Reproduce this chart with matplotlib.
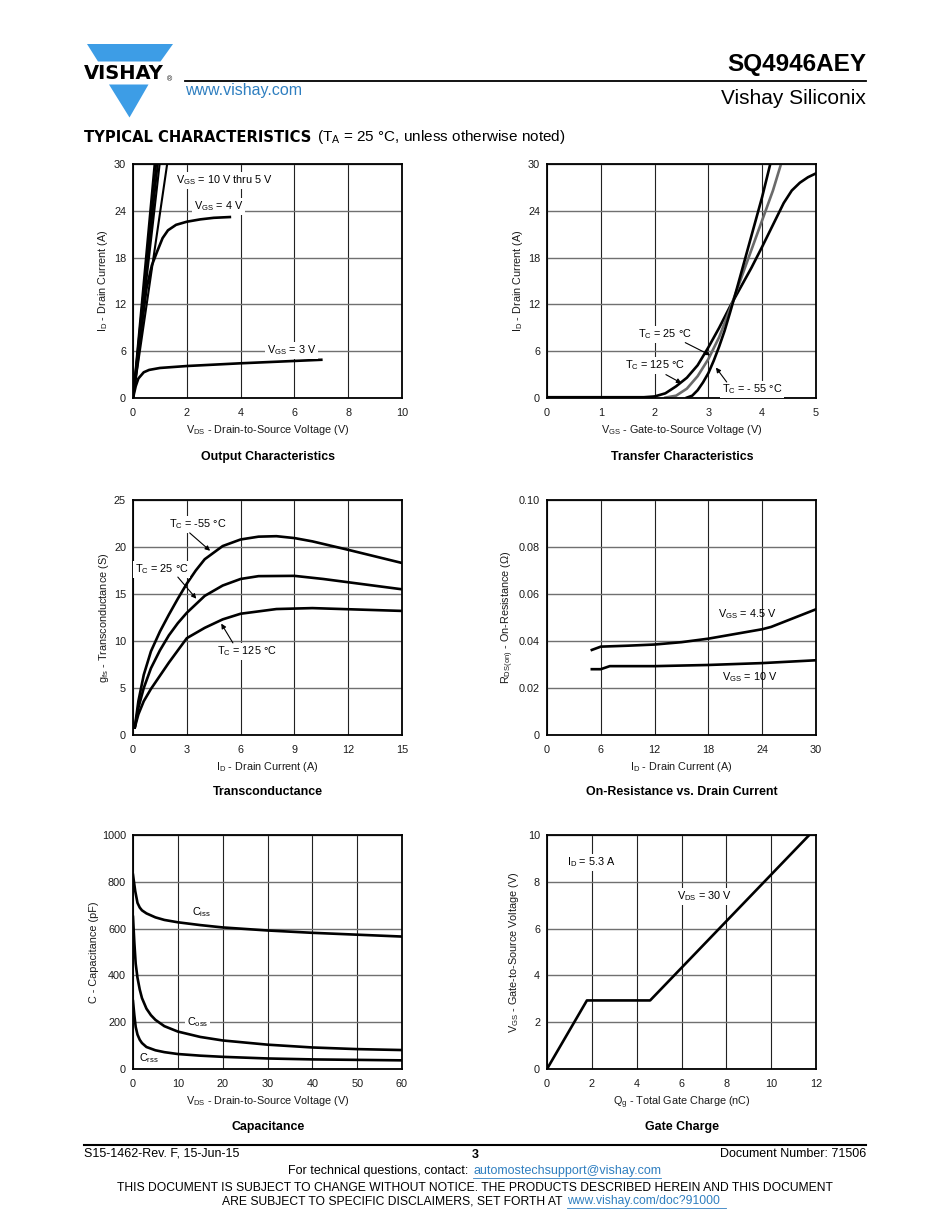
import matplotlib
matplotlib.use("Agg")
import matplotlib.pyplot as plt
from matplotlib.patches import Polygon
from matplotlib.lines import Line2D

plt.rcParams['font.family'] = ['Liberation Sans', 'DejaVu Sans']
plt.rcParams['mathtext.default'] = 'regular'

W, H = 950, 1230

# ---------------- DATA ----------------
# Output characteristics (VDS [V], ID [A])
out_hi_vds = [[0, 0.80], [0, 0.86], [0, 0.92], [0, 0.99], [0, 1.27]]
out_hi_id = [[0, 30], [0, 30], [0, 30], [0, 30], [0, 30]]
out_4v_vds = [0, 0.15, 0.3, 0.5, 0.7, 0.9, 1.1, 1.3, 1.6, 2.0, 2.5, 3.0, 3.6]
out_4v_id = [0, 4, 8.5, 14, 17, 18.8, 20.5, 21.5, 22.2, 22.6, 22.9, 23.1, 23.2]
out_3v_vds = [0, 0.1, 0.2, 0.4, 0.6, 1, 2, 4, 6, 7]
out_3v_id = [0, 1.5, 2.5, 3.3, 3.6, 3.85, 4.1, 4.45, 4.75, 4.9]

# Transfer characteristics (VGS [V], ID [A])
tr_125_vgs = [0, 1.8, 2.0, 2.2, 2.4, 2.6, 2.8, 3.0, 3.2, 3.4, 3.6, 3.8, 4.0, 4.2, 4.4, 4.55, 4.7, 4.85, 5.0]
tr_125_id = [0.1, 0.1, 0.2, 0.6, 1.5, 2.6, 4.2, 6.5, 9.0, 11.7, 14.2, 16.7, 19.4, 22.2, 25.0, 26.6, 27.6, 28.3, 28.8]
tr_25_vgs = [2.2, 2.4, 2.6, 2.8, 3.0, 3.2, 3.4, 3.6, 3.8, 4.0, 4.2, 4.35]
tr_25_id = [0.05, 0.3, 1.2, 2.8, 5.0, 7.8, 11.4, 15.2, 19.0, 22.8, 26.6, 30]
tr_m55_vgs = [2.6, 2.7, 2.8, 2.9, 3.0, 3.1, 3.2, 3.3, 3.4, 3.5, 3.6, 3.8, 4.0, 4.15]
tr_m55_id = [0.05, 0.3, 1.0, 2.0, 3.2, 4.8, 6.6, 8.6, 10.9, 13.3, 15.8, 20.8, 25.8, 30]

# Transconductance (ID [A], gfs [S])
gfs_m55_id = [0.1, 0.3, 0.6, 1.0, 1.5, 2, 2.5, 3, 3.5, 4, 5, 6, 7, 8, 9, 10, 12, 15]
gfs_m55 = [0.8, 3.6, 6.4, 8.9, 11.0, 12.8, 14.5, 16.1, 17.5, 18.7, 20.1, 20.8, 21.1, 21.15, 20.95, 20.6, 19.7, 18.3]
gfs_25_id = [0.1, 0.3, 0.6, 1.0, 1.5, 2, 2.5, 3, 4, 5, 6, 7, 9, 10.6, 15]
gfs_25 = [0.8, 2.9, 5.0, 7.1, 9.0, 10.6, 11.9, 13.0, 14.8, 15.9, 16.6, 16.9, 16.93, 16.6, 15.5]
gfs_125_id = [0.1, 0.3, 0.6, 1.0, 1.5, 2, 2.5, 3, 4, 5, 6, 8, 9, 10, 15]
gfs_125 = [0.8, 2.2, 3.6, 4.9, 6.3, 7.7, 9.0, 10.3, 11.4, 12.3, 12.9, 13.4, 13.45, 13.5, 13.2]

# On-resistance (ID [A], RDS(on) [ohm])
ron_45_id = [5, 6, 9, 12, 15, 18, 21, 24, 25, 30]
ron_45 = [0.0362, 0.0376, 0.0380, 0.0385, 0.0395, 0.0410, 0.0430, 0.0450, 0.0460, 0.0535]
ron_10_id = [5, 6, 7, 12, 18, 24, 30]
ron_10 = [0.0280, 0.0280, 0.0293, 0.0293, 0.0298, 0.0306, 0.0318]

# Capacitance (VDS [V], C [pF])
ciss_v = [0, 0.5, 1, 1.5, 2, 3, 5, 7, 10, 15, 20, 30, 40, 50, 60]
ciss = [830, 760, 710, 690, 678, 665, 648, 637, 627, 615, 605, 592, 582, 574, 566]
coss_v = [0, 0.3, 0.6, 1, 1.5, 2, 3, 4, 5, 7, 10, 15, 20, 30, 40, 50, 60]
coss = [650, 540, 450, 390, 340, 303, 258, 230, 210, 183, 160, 137, 122, 104, 92, 85, 81]
crss_v = [0, 0.3, 0.6, 1, 1.5, 2, 3, 5, 7, 10, 15, 20, 30, 40, 50, 60]
crss = [290, 230, 180, 147, 125, 111, 94, 80, 72, 64, 57, 52, 45, 41, 39, 37]

# Gate charge (Qg [nC], VGS [V])
qg = [0, 1.78, 4.6, 11.7]
vgs_qg = [0, 2.93, 2.93, 10]

# ---------------- FIGURE ----------------
fig = plt.figure(figsize=(W / 100, H / 100), dpi=100)

FS = 7.8


def fx(x):
    return x / W


def fy(y):
    return 1 - y / H


def ftext(x, y, s, **kw):
    kw.setdefault('va', 'center')
    return fig.text(fx(x), fy(y), s, **kw)


def make_axes(l, t, r, b):
    ax = fig.add_axes([fx(l), fy(b), (r - l) / W, (b - t) / H])
    for sp in ax.spines.values():
        sp.set_linewidth(1.3)
        sp.set_color('black')
    ax.tick_params(length=0, labelsize=FS, labelcolor='#1a1a1a')
    ax.tick_params(axis='x', pad=7)
    ax.tick_params(axis='y', pad=5)
    ax.set_axisbelow(True)
    ax.xaxis.grid(True, color='#222222', lw=0.8)
    ax.yaxis.grid(True, color='#707070', lw=1.0)
    return ax


def labels(ax, xl, yl, ylx, xly=-0.108):
    ax.set_xlabel(xl, fontsize=FS, color='#1a1a1a')
    ax.set_ylabel(yl, fontsize=FS, color='#1a1a1a')
    ax.xaxis.set_label_coords(0.5, xly)
    ax.yaxis.set_label_coords(ylx, 0.5)


LW = 1.9
box = dict(facecolor='white', edgecolor='none', pad=1.2)
arr = dict(arrowstyle='-|>', color='black', lw=0.8, mutation_scale=7, shrinkA=0, shrinkB=0)

# ---- Header ----
blue = '#3d9de6'
fig.add_artist(Polygon([(fx(87), fy(44)), (fx(173), fy(44)), (fx(160.5), fy(61.5)), (fx(98), fy(61.5))],
                       closed=True, facecolor=blue, edgecolor='none', transform=fig.transFigure))
fig.add_artist(Polygon([(fx(109), fy(84.5)), (fx(148.5), fy(84.5)), (fx(129.5), fy(117.5))],
                       closed=True, facecolor=blue, edgecolor='none', transform=fig.transFigure))
ftext(83.5, 73.5, 'VISHAY', fontsize=14, fontweight='bold', ha='left', color='black', family='DejaVu Sans')
ftext(166.5, 79.5, '®', fontsize=5, ha='left', color='black')
fig.add_artist(Line2D([fx(185), fx(866)], [fy(81), fy(81)], color='black', lw=1.3, transform=fig.transFigure))
ftext(185, 91, 'www.vishay.com', fontsize=11.5, ha='left', color='#2f7fc0')
ftext(866, 64, 'SQ4946AEY', fontsize=17.5, fontweight='bold', ha='right')
ftext(866, 99, 'Vishay Siliconix', fontsize=15, ha='right')
ftext(84, 137, 'TYPICAL CHARACTERISTICS', fontsize=10.6, fontweight='bold', ha='left', family='DejaVu Sans')
ftext(317, 137, r'(T$_A$ = 25 °C, unless otherwise noted)', fontsize=11, ha='left')

# ---- 1. Output characteristics ----
ax1 = make_axes(133, 164, 402, 398)
for xs, ys in zip(out_hi_vds, out_hi_id):
    ax1.plot(xs, ys, color='black', lw=1.5)
ax1.plot(out_4v_vds, out_4v_id, color='black', lw=LW)
ax1.plot(out_3v_vds, out_3v_id, color='black', lw=LW)
ax1.set_xlim(0, 10)
ax1.set_ylim(0, 30)
ax1.set_xticks([0, 2, 4, 6, 8, 10])
ax1.set_yticks([0, 6, 12, 18, 24, 30])
ax1.text(1.58, 27.9, r'$V_{GS}$ = 10 V thru 5 V', fontsize=FS, va='center', ha='left', bbox=box)
ax1.text(2.27, 24.6, r'$V_{GS}$ = 4 V', fontsize=FS, va='center', ha='left', bbox=box)
ax1.text(4.98, 6.1, r'$V_{GS}$ = 3 V', fontsize=FS, va='center', ha='left', bbox=box)
labels(ax1, r'$V_{DS}$ - Drain-to-Source Voltage (V)', r'$I_D$ - Drain Current (A)', -0.085)
ftext(268, 457, 'Output Characteristics', fontsize=8.9, fontweight='bold', ha='center')

# ---- 2. Transfer characteristics ----
ax2 = make_axes(547, 164, 816, 398)
ax2.plot(tr_125_vgs, tr_125_id, color='black', lw=LW)
ax2.plot(tr_25_vgs, tr_25_id, color='#6a6a6a', lw=LW)
ax2.plot(tr_m55_vgs, tr_m55_id, color='black', lw=LW)
ax2.set_xlim(0, 5)
ax2.set_ylim(0, 30)
ax2.set_xticks([0, 1, 2, 3, 4, 5])
ax2.set_yticks([0, 6, 12, 18, 24, 30])
ax2.text(1.69, 8.2, r'$T_C$ = 25 °C', fontsize=FS, va='center', ha='left', bbox=box)
ax2.annotate('', xy=(3.03, 5.5), xytext=(2.57, 7.1), arrowprops=arr)
ax2.text(1.45, 4.2, r'$T_C$ = 125 °C', fontsize=FS, va='center', ha='left', bbox=box)
ax2.annotate('', xy=(2.5, 1.9), xytext=(2.21, 3.0), arrowprops=arr)
ax2.text(3.25, 1.1, r'$T_C$ = - 55 °C', fontsize=FS, va='center', ha='left', bbox=box)
ax2.annotate('', xy=(3.14, 3.9), xytext=(3.34, 2.05), arrowprops=arr)
labels(ax2, r'$V_{GS}$ - Gate-to-Source Voltage (V)', r'$I_D$ - Drain Current (A)', -0.083)
ftext(682, 457, 'Transfer Characteristics', fontsize=8.9, fontweight='bold', ha='center')

# ---- 3. Transconductance ----
ax3 = make_axes(133, 500, 402, 735)
ax3.plot(gfs_m55_id, gfs_m55, color='black', lw=LW)
ax3.plot(gfs_25_id, gfs_25, color='black', lw=LW)
ax3.plot(gfs_125_id, gfs_125, color='black', lw=LW)
ax3.set_xlim(0, 15)
ax3.set_ylim(0, 25)
ax3.set_xticks([0, 3, 6, 9, 12, 15])
ax3.set_yticks([0, 5, 10, 15, 20, 25])
ax3.text(2.02, 22.4, r'$T_C$ = -55 °C', fontsize=FS, va='center', ha='left', bbox=box)
ax3.annotate('', xy=(4.3, 19.6), xytext=(3.16, 21.5), arrowprops=arr)
ax3.text(0.11, 17.6, r'$T_C$ = 25 °C', fontsize=FS, va='center', ha='left', bbox=box)
ax3.annotate('', xy=(3.53, 14.5), xytext=(2.5, 16.8), arrowprops=arr)
ax3.text(4.67, 8.9, r'$T_C$ = 125 °C', fontsize=FS, va='center', ha='left', bbox=box)
ax3.annotate('', xy=(4.92, 11.85), xytext=(5.57, 9.8), arrowprops=arr)
labels(ax3, r'$I_D$ - Drain Current (A)', r'$g_{fs}$ - Transconductance (S)', -0.083)
ftext(268, 792, 'Transconductance', fontsize=8.9, fontweight='bold', ha='center')

# ---- 4. On-resistance ----
ax4 = make_axes(547, 500, 816, 735)
ax4.plot(ron_45_id, ron_45, color='black', lw=LW)
ax4.plot(ron_10_id, ron_10, color='black', lw=LW)
ax4.set_xlim(0, 30)
ax4.set_ylim(0, 0.10)
ax4.set_xticks([0, 6, 12, 18, 24, 30])
ax4.set_yticks([0, 0.02, 0.04, 0.06, 0.08, 0.10])
ax4.set_yticklabels(['0', '0.02', '0.04', '0.06', '0.08', '0.10'])
ax4.text(19.1, 0.0515, r'$V_{GS}$ = 4.5 V', fontsize=FS, va='center', ha='left')
ax4.text(19.5, 0.0245, r'$V_{GS}$ = 10 V', fontsize=FS, va='center', ha='left')
labels(ax4, r'$I_D$ - Drain Current (A)', r'$R_{DS(on)}$ - On-Resistance (Ω)', -0.114)
ftext(682, 792, 'On-Resistance vs. Drain Current', fontsize=8.9, fontweight='bold', ha='center')

# ---- 5. Capacitance ----
ax5 = make_axes(133, 835, 402, 1069)
ax5.plot(ciss_v, ciss, color='black', lw=LW)
ax5.plot(coss_v, coss, color='black', lw=LW)
ax5.plot(crss_v, crss, color='black', lw=LW)
ax5.set_xlim(0, 60)
ax5.set_ylim(0, 1000)
ax5.set_xticks([0, 10, 20, 30, 40, 50, 60])
ax5.set_yticks([0, 200, 400, 600, 800, 1000])
ax5.text(13.1, 670, r'$C_{iss}$', fontsize=FS, va='center', ha='left', bbox=box)
ax5.text(12.0, 200, r'$C_{oss}$', fontsize=FS, va='center', ha='left', bbox=box)
ax5.text(1.4, 46, r'$C_{rss}$', fontsize=FS, va='center', ha='left')
labels(ax5, r'$V_{DS}$ - Drain-to-Source Voltage (V)', 'C - Capacitance (pF)', -0.125)
ftext(268, 1127, 'Capacitance', fontsize=8.9, fontweight='bold', ha='center')

# ---- 6. Gate charge ----
ax6 = make_axes(547, 835, 816, 1069)
ax6.plot(qg, vgs_qg, color='black', lw=LW)
ax6.set_xlim(0, 12)
ax6.set_ylim(0, 10)
ax6.set_xticks([0, 2, 4, 6, 8, 10, 12])
ax6.set_yticks([0, 2, 4, 6, 8, 10])
ax6.text(0.88, 8.83, r'$I_D$ = 5.3 A', fontsize=FS, va='center', ha='left', bbox=box)
ax6.text(5.78, 7.39, r'$V_{DS}$ = 30 V', fontsize=FS, va='center', ha='left', bbox=box)
labels(ax6, r'$Q_g$ - Total Gate Charge (nC)', r'$V_{GS}$ - Gate-to-Source Voltage (V)', -0.095)
ftext(682, 1127, 'Gate Charge', fontsize=8.9, fontweight='bold', ha='center')

# ---- Footer ----
fig.add_artist(Line2D([fx(84), fx(866)], [fy(1145), fy(1145)], color='black', lw=1.5, transform=fig.transFigure))
ftext(84, 1154, 'S15-1462-Rev. F, 15-Jun-15', fontsize=9, ha='left')
ftext(475, 1155, '3', fontsize=9, fontweight='bold', ha='center')
ftext(866, 1154, 'Document Number: 71506', fontsize=9, ha='right')
linkc = '#2f7fc0'
ftext(472, 1171, 'For technical questions, contact: ', fontsize=9, ha='right')
ftext(473, 1171, 'automostechsupport@vishay.com', fontsize=9, ha='left', color=linkc)
fig.add_artist(Line2D([fx(473), fx(661)], [fy(1177.5), fy(1177.5)], color=linkc, lw=0.6, transform=fig.transFigure))
ftext(475, 1188, 'THIS DOCUMENT IS SUBJECT TO CHANGE WITHOUT NOTICE. THE PRODUCTS DESCRIBED HEREIN AND THIS DOCUMENT',
      fontsize=8.75, ha='center')
ftext(566, 1201, 'ARE SUBJECT TO SPECIFIC DISCLAIMERS, SET FORTH AT ', fontsize=8.75, ha='right')
ftext(567, 1201, 'www.vishay.com/doc?91000', fontsize=8.75, ha='left', color=linkc)
fig.add_artist(Line2D([fx(567), fx(726)], [fy(1207.5), fy(1207.5)], color=linkc, lw=0.6, transform=fig.transFigure))

fig.savefig('out.png', dpi=100)
